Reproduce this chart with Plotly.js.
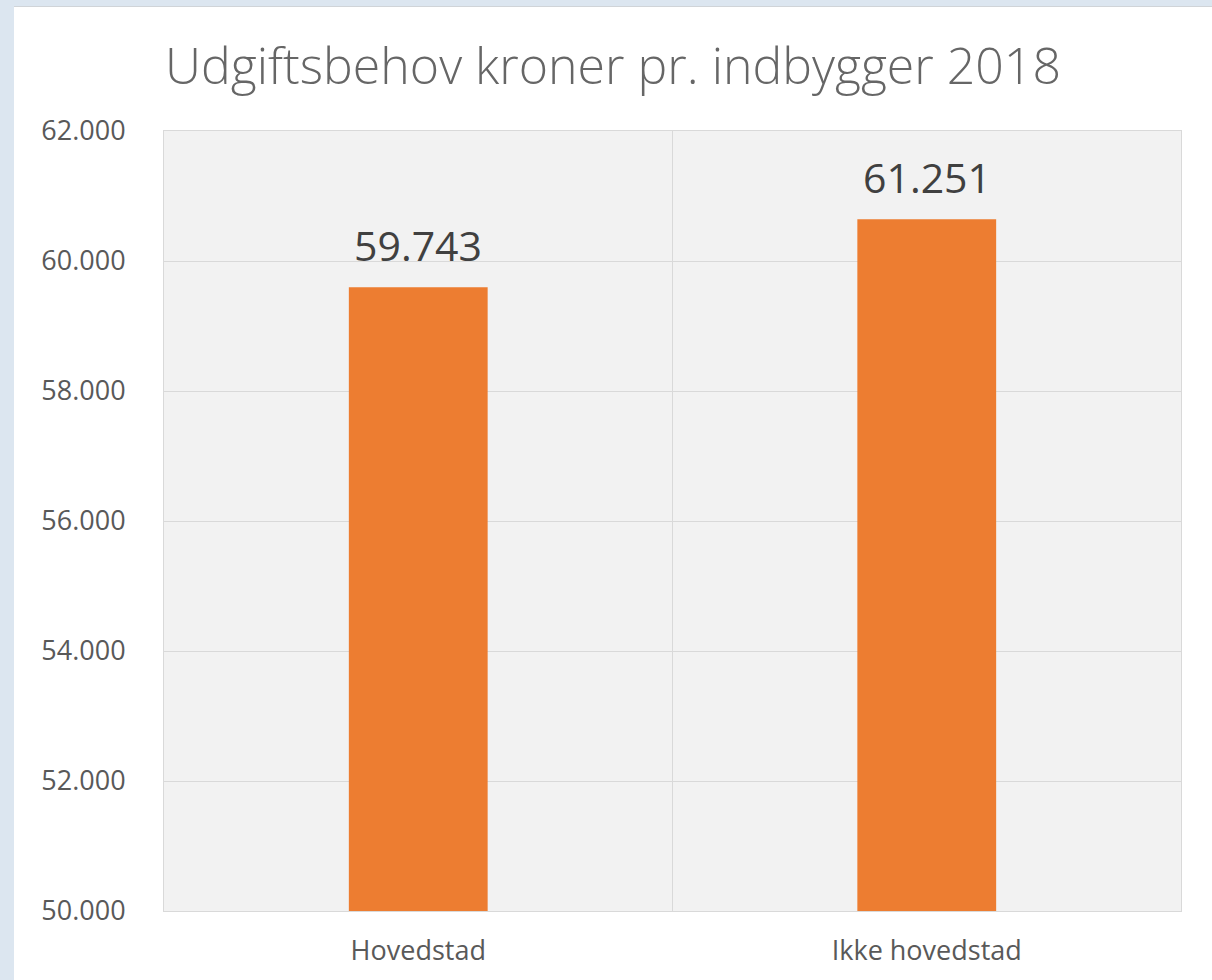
<!DOCTYPE html>
<html>
<head>
<meta charset="utf-8">
<script src="https://cdn.plot.ly/plotly-3.0.1.min.js"></script>
<style>
  html, body { margin: 0; padding: 0; background: #dce6f0; width: 1212px; height: 980px; overflow: hidden; }
  #chart { position: absolute; left: 14px; top: 6px; width: 1198px; height: 974px; background: #ffffff; border-top: 1px solid #d0d4d8; box-sizing: border-box; }
</style>
</head>
<body>
<div id="chart"></div>
<script>
const categories = ["Hovedstad", "Ikke hovedstad"];
const barValues = [59597, 60644];
const labelTexts = ["59.743", "61.251"];
const yTicks = [50000, 52000, 54000, 56000, 58000, 60000, 62000];

const trace = {
  type: "bar",
  x: categories,
  y: barValues,
  marker: { color: "#ED7D31" },
  width: 0.273,
  hoverinfo: "x+y"
};

const annotations = categories.map((c, i) => ({
  x: c, y: barValues[i], xref: "x", yref: "y",
  text: labelTexts[i], showarrow: false,
  yanchor: "bottom", yshift: 12,
  font: { family: "Open Sans, sans-serif", size: 41, color: "#404040" }
}));

const layout = {
  width: 1198, height: 973,
  paper_bgcolor: "#ffffff",
  plot_bgcolor: "#F2F2F2",
  separators: ",.",
  margin: { l: 150, r: 31, t: 124, b: 69 },
  showlegend: false,
  title: {
    text: "Udgiftsbehov kroner pr. indbygger 2018",
    x: 0.5, xanchor: "center",
    y: 1 - 59 / 973, yanchor: "middle",
    font: { family: "Open Sans, sans-serif", size: 50, color: "#666666", weight: 300 }
  },
  xaxis: {
    type: "category",
    showgrid: false,
    showline: true, mirror: true, linecolor: "#D9D9D9", linewidth: 1,
    ticks: "", ticklabelstandoff: 16,
    tickfont: { family: "Open Sans, sans-serif", size: 27, color: "#595959" }
  },
  yaxis: {
    range: [50000, 62000],
    tickvals: yTicks,
    tickformat: ",d",
    showgrid: true, gridcolor: "#D9D9D9", gridwidth: 1,
    showline: true, mirror: true, linecolor: "#D9D9D9", linewidth: 1,
    zeroline: false,
    ticks: "", ticklabelstandoff: 32,
    tickfont: { family: "Open Sans, sans-serif", size: 27, color: "#595959" }
  },
  shapes: [{
    type: "line", xref: "x", yref: "paper",
    x0: 0.5, x1: 0.5, y0: 0, y1: 1,
    line: { color: "#D9D9D9", width: 1 },
    layer: "below"
  }],
  annotations: annotations
};

Plotly.newPlot("chart", [trace], layout, { displayModeBar: false, staticPlot: true });
</script>
</body>
</html>
